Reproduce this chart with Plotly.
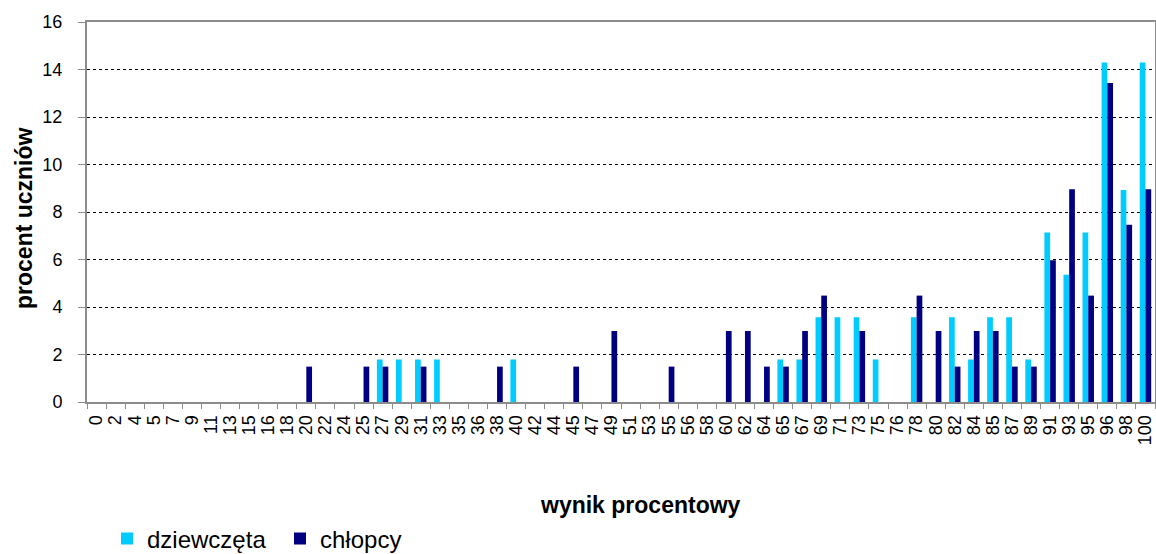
import plotly.graph_objects as go

categories = ["0","2","4","5","7","9","11","13","15","16","18","20","22","24","25","27","29","31","33","35",
              "36","38","40","42","44","45","47","49","51","53","55","56","58","60","62","64","65","67","69","71",
              "73","75","76","78","80","82","84","85","87","89","91","93","95","96","98","100"]

girls_map = {"27":1.79,"29":1.79,"31":1.79,"33":1.79,"40":1.79,"65":1.79,"67":1.79,"69":3.57,"71":3.57,
             "73":3.57,"75":1.79,"78":3.57,"82":3.57,"84":1.79,"85":3.57,"87":3.57,"89":1.79,"91":7.14,
             "93":5.36,"95":7.14,"96":14.29,"98":8.93,"100":14.29}
boys_map = {"20":1.49,"25":1.49,"27":1.49,"31":1.49,"38":1.49,"45":1.49,"49":2.99,"55":1.49,"60":2.99,
            "62":2.99,"64":1.49,"65":1.49,"67":2.99,"69":4.48,"73":2.99,"78":4.48,"80":2.99,"82":1.49,
            "84":2.99,"85":2.99,"87":1.49,"89":1.49,"91":5.97,"93":8.96,"95":4.48,"96":13.43,"98":7.46,"100":8.96}

girls = [girls_map.get(c, 0) for c in categories]
boys = [boys_map.get(c, 0) for c in categories]

FONT = "Liberation Sans, Arial, sans-serif"
AXIS_GREY = "#8c8c8c"

W, H = 1156, 554
PL, PT, PR, PB = 87, 22, 1155, 402       # plot area in window pixels
PW, PH = PR - PL, PB - PT

def px_x(x):  # window px -> paper x
    return (x - PL) / PW

def px_y(y):  # window px -> paper y
    return (PB - y) / PH

fig = go.Figure()
fig.add_trace(go.Bar(x=categories, y=girls, name="dziewczęta",
                     marker=dict(color="#00CCFF", line=dict(width=0))))
fig.add_trace(go.Bar(x=categories, y=boys, name="chłopcy",
                     marker=dict(color="#000080", line=dict(width=0))))

fig.update_layout(
    width=W, height=H,
    margin=dict(l=PL, r=W - PR, t=PT, b=H - PB, autoexpand=False),
    plot_bgcolor="white", paper_bgcolor="white",
    barmode="group", bargap=0.4, bargroupgap=0,
    font=dict(family=FONT, size=18, color="black"),
    showlegend=True,
    legend=dict(orientation="h", xref="container", yref="container",
                x=107 / W, xanchor="left",
                y=1 - 539 / H, yanchor="middle",
                font=dict(size=24), itemwidth=30, entrywidth=128, traceorder="normal"),
    xaxis=dict(type="category", tickmode="linear", dtick=1, tickangle=-90,
               ticks="outside", tickson="boundaries",
               ticklen=5, tickcolor=AXIS_GREY, tickwidth=1, showgrid=False,
               showline=True, linecolor=AXIS_GREY, linewidth=2, mirror=True,
               tickfont=dict(size=18), automargin=False, ticklabelstandoff=4),
    yaxis=dict(range=[0, 16], dtick=2, ticks="outside", ticklen=7, tickcolor=AXIS_GREY,
               showgrid=True, gridcolor="black", gridwidth=1, griddash="dot",
               showline=True, linecolor=AXIS_GREY, linewidth=2, mirror=True,
               zeroline=False, tickfont=dict(size=18), automargin=False, ticklabelstandoff=12),
)

fig.add_annotation(text="<b>wynik procentowy</b>", xref="paper", yref="paper",
                   x=px_x(640), y=px_y(505), xanchor="center", yanchor="middle",
                   showarrow=False, font=dict(size=23))
fig.add_annotation(text="<b>procent uczniów</b>", xref="paper", yref="paper",
                   x=px_x(24), y=px_y(218), xanchor="center", yanchor="middle", textangle=-90,
                   showarrow=False, font=dict(size=23))

fig.write_html("out.html", config={"displayModeBar": False},
               post_script="document.body.style.margin='0px';document.documentElement.style.overflow='hidden';")
